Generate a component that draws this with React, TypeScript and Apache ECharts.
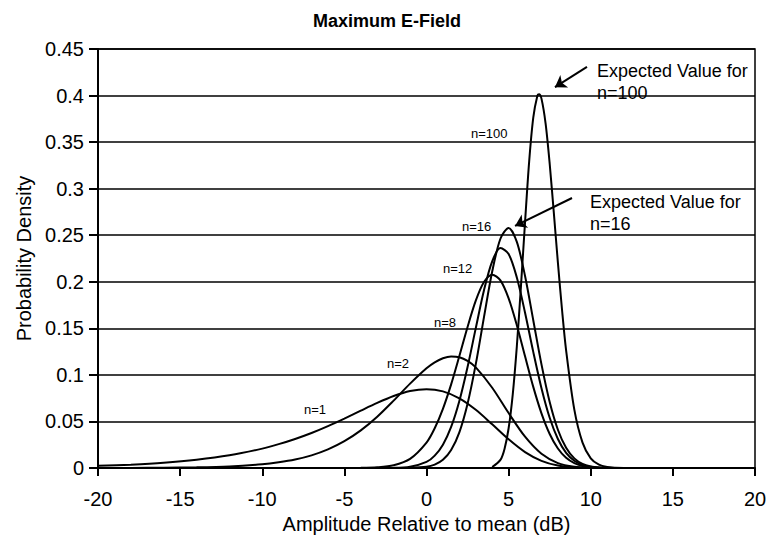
import React, { useEffect, useRef } from "react";
import * as echarts from "echarts";

// ---- data ----
const X_N1 = [-20, -18, -16, -14, -12, -10, -9, -8, -7, -6, -5, -4, -3, -2, -1, 0, 1, 2, 3, 4, 5, 6, 7, 8, 9, 10, 11];
const Y_N1 = [0.0023, 0.0036, 0.0056, 0.0088, 0.0136, 0.0208, 0.0256, 0.0312, 0.0376, 0.045, 0.0531, 0.0616, 0.0699, 0.0773, 0.0827, 0.0847, 0.0823, 0.0748, 0.0625, 0.0469, 0.0308, 0.0171, 0.0077, 0.0026, 0.0007, 0.0001, 0];

const X_N2 = [-20, -18, -16, -14, -12, -10, -9, -8, -7, -6, -5, -4, -3, -2, -1, 0, 0.5, 1, 1.5, 2, 2.5, 3, 4, 5, 6, 7, 8, 9, 10, 11];
const Y_N2 = [0, 0.0001, 0.0003, 0.0007, 0.0017, 0.004, 0.0061, 0.0091, 0.0136, 0.02, 0.0288, 0.0404, 0.0551, 0.0724, 0.0906, 0.1071, 0.1135, 0.1179, 0.1198, 0.119, 0.115, 0.108, 0.0862, 0.059, 0.0336, 0.0153, 0.0053, 0.0013, 0.0002, 0];

const X_N8 = [-4, -3, -2, -1, 0, 0.5, 1, 1.5, 2, 2.5, 3, 3.5, 4, 4.5, 5, 5.5, 6, 6.5, 7, 7.5, 8, 8.5, 9, 9.5, 10, 11];
const Y_N8 = [0.0002, 0.0008, 0.003, 0.0098, 0.0273, 0.0427, 0.0636, 0.0898, 0.1202, 0.1515, 0.1797, 0.1997, 0.2076, 0.2015, 0.1822, 0.1533, 0.1199, 0.0871, 0.0587, 0.0365, 0.0209, 0.0109, 0.0052, 0.0022, 0.0008, 0.0001];

const X_N12 = [-2, -1, 0, 0.5, 1, 1.5, 2, 2.5, 3, 3.5, 4, 4.5, 5, 5.5, 6, 6.5, 7, 7.5, 8, 8.5, 9, 9.5, 10, 10.5, 11];
const Y_N12 = [0.0002, 0.0013, 0.0065, 0.0133, 0.0251, 0.0441, 0.072, 0.1085, 0.1502, 0.1909, 0.222, 0.2362, 0.2298, 0.2046, 0.1668, 0.1247, 0.0857, 0.0539, 0.0311, 0.0163, 0.0078, 0.0033, 0.0013, 0.0004, 0.0001];

const X_N16 = [-1, 0, 0.5, 1, 1.5, 2, 2.5, 3, 3.5, 4, 4.5, 5, 5.5, 6, 6.5, 7, 7.5, 8, 8.5, 9, 9.5, 10, 10.5, 11];
const Y_N16 = [0.0002, 0.0014, 0.0037, 0.0088, 0.0193, 0.0383, 0.069, 0.1115, 0.1621, 0.211, 0.2462, 0.2578, 0.2428, 0.2062, 0.1587, 0.1113, 0.0709, 0.0411, 0.0217, 0.0103, 0.0044, 0.0017, 0.0006, 0.0002];

const X_N100 = [4, 4.5, 4.75, 5, 5.25, 5.5, 5.75, 6, 6.25, 6.5, 6.75, 6.85, 7, 7.25, 7.5, 7.75, 8, 8.25, 8.5, 9, 9.5, 10, 10.5, 11, 11.5, 12];
const Y_N100 = [0.0011, 0.0087, 0.0205, 0.0427, 0.0789, 0.1307, 0.195, 0.264, 0.3291, 0.3763, 0.3997, 0.4015, 0.3967, 0.3701, 0.3268, 0.2745, 0.2206, 0.1702, 0.1264, 0.0627, 0.0273, 0.0104, 0.0035, 0.001, 0.0002, 0];

const SERIES_NAMES = ["n=1", "n=2", "n=8", "n=12", "n=16", "n=100"];
const X_TICKS = [-20, -15, -10, -5, 0, 5, 10, 15, 20];
const Y_TICKS = [0, 0.05, 0.1, 0.15, 0.2, 0.25, 0.3, 0.35, 0.4, 0.45];

// arrow annotations in data coordinates [x, y] tail -> head
const ARROW_100 = [[9.77, 0.4307], [7.82, 0.409]];
const ARROW_16 = [[8.86, 0.29], [5.39, 0.26]];

const FONT = '"Liberation Sans", Arial, Helvetica, sans-serif';

export default function App() {
  const ref = useRef<HTMLDivElement>(null);
  useEffect(() => {
    if (!ref.current) return;
    const chart = echarts.init(ref.current, undefined, { renderer: "svg" });
    const xs = [X_N1, X_N2, X_N8, X_N12, X_N16, X_N100];
    const ys = [Y_N1, Y_N2, Y_N8, Y_N12, Y_N16, Y_N100];
    const series: any[] = xs.map((X, k) => ({
      name: SERIES_NAMES[k],
      type: "line",
      data: X.map((x, i) => [x, ys[k][i]]),
      showSymbol: false,
      smooth: 0.3,
      lineStyle: { color: "#000", width: 2 },
      z: 3,
    }));
    series[5].markLine = {
      silent: true,
      symbol: ["none", "arrow"],
      symbolSize: 11,
      label: { show: false },
      lineStyle: { color: "#000", width: 2, type: "solid" },
      data: [
        [{ coord: ARROW_100[0] }, { coord: ARROW_100[1] }],
        [{ coord: ARROW_16[0] }, { coord: ARROW_16[1] }],
      ],
    };
    const small = `13px ${FONT}`;
    const big = `18px ${FONT}`;
    const txt = (text: string, x: number, y: number, font: string) => ({
      type: "text",
      x,
      y,
      z: 10,
      style: { text, font, fill: "#000", verticalAlign: "middle", align: "left" },
    });
    chart.setOption({
      animation: false,
      backgroundColor: "#fff",
      title: {
        text: "Maximum E-Field",
        left: "center",
        top: 7,
        textStyle: { fontFamily: FONT, fontWeight: "bold", fontSize: 18, color: "#000" },
      },
      grid: {
        left: 98,
        right: 19,
        top: 49,
        bottom: 79,
        show: true,
        borderColor: "#000",
        borderWidth: 1.5,
        backgroundColor: "transparent",
      },
      xAxis: {
        type: "value",
        min: X_TICKS[0],
        max: X_TICKS[X_TICKS.length - 1],
        interval: 5,
        name: "Amplitude Relative to mean (dB)",
        nameLocation: "middle",
        nameGap: 44,
        nameTextStyle: { fontFamily: FONT, fontSize: 20, color: "#000" },
        axisLine: { onZero: false, lineStyle: { color: "#000", width: 2 } },
        axisTick: { show: true, length: 8, inside: false, lineStyle: { color: "#000", width: 2 } },
        axisLabel: { fontFamily: FONT, fontSize: 20, color: "#000", margin: 21 },
        splitLine: { show: false },
      },
      yAxis: {
        type: "value",
        min: Y_TICKS[0],
        max: Y_TICKS[Y_TICKS.length - 1],
        interval: 0.05,
        name: "Probability Density",
        nameLocation: "middle",
        nameGap: 63,
        nameTextStyle: { fontFamily: FONT, fontSize: 20, color: "#000" },
        axisLine: { show: true, onZero: false, lineStyle: { color: "#000", width: 2 } },
        axisTick: { show: true, length: 9, inside: false, lineStyle: { color: "#000", width: 2 } },
        axisLabel: {
          fontFamily: FONT,
          fontSize: 20,
          color: "#000",
          margin: 14,
          formatter: (v: number) => String(Math.round(v * 100) / 100),
        },
        splitLine: { show: true, lineStyle: { color: "#000", width: 1.6 } },
      },
      graphic: [
        txt("n=100", 471, 133, small),
        txt("n=16", 462, 226, small),
        txt("n=12", 443, 268, small),
        txt("n=8", 434, 322, small),
        txt("n=2", 387, 363, small),
        txt("n=1", 304, 409, small),
        txt("Expected Value for", 597, 71, big),
        txt("n=100", 597, 93, big),
        txt("Expected Value for", 590, 202, big),
        txt("n=16", 590, 224, big),
      ],
      series,
    });
    return () => chart.dispose();
  }, []);
  return (
    <div
      ref={ref}
      style={{ position: "fixed", left: 0, top: 0, width: 774, height: 547, background: "#fff" }}
    />
  );
}
